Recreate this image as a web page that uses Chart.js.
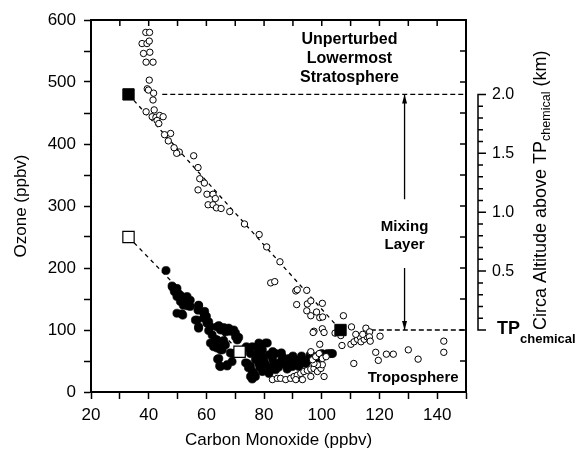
<!DOCTYPE html>
<html><head><meta charset="utf-8">
<script src="https://cdn.jsdelivr.net/npm/chart.js@4/dist/chart.umd.min.js"></script>
<style>html,body{margin:0;padding:0;background:#fff}</style>
</head><body>
<canvas id="c" width="577" height="453"></canvas>
<script>
// ---- Data ----
const openCO = [39.0,40.3,37.7,39.4,40.2,38.2,40.4,39.1,41.5,40.2,39.5,39.9,41.7,41.5,41.9,39.1,41.2,42.5,43.8,45.0,42.9,43.5,47.6,45.5,46.8,48.8,50.6,49.7,55.6,57.1,57.7,59.3,57.1,60.2,62.3,63.1,60.6,62.3,63.5,65.1,68.1,73.2,78.3,80.9,85.5,82.3,83.7,91.0,91.5,94.8,91.3,95.0,96.2,100.2,94.8,96.2,98.2,99.3,100.3,107.5,97.3,97.0,100.2,100.8,104.6,106.6,107.0,99.3,110.3,110.1,111.2,112.4,113.3,113.6,114.7,115.7,115.3,116.6,116.5,116.8,111.8,114.2,120.2,118.7,119.6,122.4,124.8,130.0,133.4,142.3,142.3,111.1,
  82.9,84.6,85.7,87.5,89.2,90.4,91.5,92.7,93.8,95.0,96.2,97.3,98.5,99.7,100.2,98.5,97.3,96.8,97.9,99.1,100.2,100.8,96.2,93.3,91.0,96.2,101.5];
const openO3 = [580,580,562,562,566,546,548,532,532,503,489,487,482,471,455,452,444,443,446,444,438,433,417,415,405,394,387,385,381,362,344,337,326,319,319,312,302,302,297,296,291,271,254,234,210,176,178,163,165,164,141,142,147,143,131,123,129,120,121,123,98,96,102,96,95,91,75,77,105,77,81,85,89,81,85,89,103,97,89,82,93,93,90,64,51,61,61,68,53,82,64,46,
  20,22,22,20,22,25,27,30,33,35,37,38,33,38,44,44,46,52,57,62,54,25,25,20,20,65,57];

const filledCO = [46.0,48.1,48.3,49.8,48.9,49.2,50.2,51.0,49.8,52.1,51.5,53.3,54.4,51.0,52.7,53.8,53.0,52.0,53.3,54.4,57.3,57.3,57.1,59.4,59.1,49.8,51.8,51.5,60.0,59.1,59.7,56.8,56.2,60.8,60.2,57.3,57.3,61.4,64.3,63.7,66.0,64.9,67.8,68.9,66.6,68.3,70.1,70.1,71.2,70.7,67.7,69.5,60.8,62.0,63.1,63.7,64.3,61.4,62.5,63.7,64.9,64.9,65.5,66.0,66.6,63.9,64.3,64.6,64.9,67.2,68.3,68.9,68.9,69.5,67.2,72.4,73.9,73.6,74.2,75.3,73.6,74.6,75.9,77.0,75.3,75.9,77.6,81.1,79.4,75.3,75.9,78.2,80.5,77.6,79.4,81.7,84.0,86.3,88.6,91.0,93.3,95.6,97.9,100.2,103.1,102.0,103.7,78.2,80.5,82.9,85.1,87.5,89.8,92.1,94.4,79.4,81.7,84.0,77.0,80.0,83.0,86.0,89.0,92.0,95.0,98.0,76.5,78.5,82.0,85.0,88.0,83.0,86.0,90.0,93.0,96.0,100.0];
const filledO3 = [196,171,169,167,162,162,159,156,154,151,151,154,148,146,148,146,143,140,139,138,140,139,132,130,127,127,124,126,122,119,119,116,116,113,111,105,103,105,107,105,104,100,98,98,97,100,95,89,88,84,103,100,99,92,85,84,79,79,73,71,68,73,68,83,76,53,54,42,41,42,63,62,49,62,44,62,73,71,46,41,47,39,33,25,25,21,73,79,68,62,73,79,79,62,57,60,62,57,54,52,52,54,57,57,62,62,62,46,44,41,46,44,41,41,46,33,30,36,52,50,52,50,48,47,50,50,30,40,35,40,37,65,63,58,58,60,62];

const stratSquareCO = [33, 106.5];   // unperturbed LMS end-member, TP end-member
const stratSquareO3 = [480, 100];
const tropSquareCO  = [33, 71.5];
const tropSquareO3  = [250, 65];

const levelO3      = [480, 100];     // LMS level, chemical tropopause
const levelStartCO = [44.7, 117];
const levelEndCO   = 149.5;

const arrowCO       = 128.7;
const arrowUpperO3  = [480, 311];
const arrowLowerO3  = [200, 100];

const tpOzone = 100, ozonePerKm = 190;          // right-axis relation
const altTickKm     = [0, 0.5, 1.0, 1.5, 2.0];
const altTickLabels = ['TP', '0.5', '1.0', '1.5', '2.0'];

// ---- Build ----
const FONT = '"Liberation Sans", Arial, Helvetica, sans-serif';
const zip = (xs, ys) => xs.map((v, i) => ({x: v, y: ys[i]}));

const decor = {
  id: 'decor',
  afterDatasetsDraw(chart) {
    const {ctx, chartArea: a, scales} = chart;
    const x = scales.x, y = scales.y, y2 = scales.y2;
    ctx.save();
    ctx.strokeStyle = '#000'; ctx.fillStyle = '#000';
    // top & right frame with inward ticks
    ctx.lineWidth = 2;
    ctx.beginPath();
    ctx.moveTo(a.left - 1, a.top); ctx.lineTo(a.right, a.top); ctx.lineTo(a.right, a.bottom + 1);
    ctx.stroke();
    ctx.lineWidth = 1.5;
    ctx.beginPath();
    x.ticks.forEach(t => { const px = x.getPixelForValue(t.value); ctx.moveTo(px, a.top); ctx.lineTo(px, a.top + 6); });
    y.ticks.forEach(t => { const py = y.getPixelForValue(t.value); ctx.moveTo(a.right, py); ctx.lineTo(a.right - 6, py); });
    ctx.stroke();

    // arrow heads
    const ax = x.getPixelForValue(arrowCO);
    const head = (px, py, dir) => {
      ctx.beginPath();
      ctx.moveTo(px, py);
      ctx.lineTo(px - 2.5, py - dir * 9);
      ctx.lineTo(px + 2.5, py - dir * 9);
      ctx.closePath(); ctx.fill();
    };
    head(ax, y.getPixelForValue(arrowUpperO3[0]), -1);
    head(ax, y.getPixelForValue(arrowLowerO3[1]), 1);

    // right altitude axis
    const rx = a.right + 12;
    const ytop = y2.getPixelForValue(altTickKm[altTickKm.length - 1]);
    const ybot = y2.getPixelForValue(altTickKm[0]);
    ctx.lineWidth = 1.5;
    ctx.beginPath();
    ctx.moveTo(rx, ytop - 0.75); ctx.lineTo(rx, ybot + 0.75);
    for (let k = 0; k <= 20; k++) {
      const py = y2.getPixelForValue(k / 10);
      const len = (k % 5 === 0) ? 8 : 5;
      ctx.moveTo(rx - 0.75, py); ctx.lineTo(rx + len, py);
    }
    ctx.stroke();
    ctx.textBaseline = 'middle'; ctx.textAlign = 'left';
    altTickKm.forEach((km, i) => {
      const py = y2.getPixelForValue(km);
      if (altTickLabels[i] === 'TP') {
        ctx.textBaseline = 'alphabetic';
        ctx.font = 'bold 18px ' + FONT;
        ctx.fillText('TP', rx + 19, py + 4);
        const w = ctx.measureText('TP').width;
        ctx.font = 'bold 13px ' + FONT;
        ctx.fillText('chemical', rx + 19 + w, py + 13);
        ctx.textBaseline = 'middle';
      } else {
        ctx.font = '16px ' + FONT;
        ctx.fillText(altTickLabels[i], rx + 14, py);
      }
    });
    // right axis title (rotated)
    ctx.save();
    ctx.translate(rx + 68, ybot);
    ctx.rotate(-Math.PI / 2);
    ctx.textAlign = 'left'; ctx.textBaseline = 'alphabetic';
    const t1 = 'Circa Altitude above TP';
    ctx.font = '18px ' + FONT;
    ctx.fillText(t1, 0, 0);
    const w1 = ctx.measureText(t1).width;
    ctx.font = '12.5px ' + FONT;
    ctx.fillText('chemical', w1, 4);
    const w2 = ctx.measureText('chemical').width;
    ctx.font = '18px ' + FONT;
    ctx.fillText(' (km)', w1 + w2, 0);
    ctx.restore();

    // annotations
    ctx.textAlign = 'center'; ctx.textBaseline = 'middle';
    ctx.font = 'bold 16px ' + FONT;
    const ux = x.getPixelForValue(109.6);
    ctx.fillText('Unperturbed', ux, y.getPixelForValue(567.7));
    ctx.fillText('Lowermost', ux, y.getPixelForValue(538));
    ctx.fillText('Stratosphere', ux, y.getPixelForValue(507.6));
    ctx.font = 'bold 15px ' + FONT;
    ctx.fillText('Mixing', ax, y.getPixelForValue(266.6));
    ctx.fillText('Layer', ax, y.getPixelForValue(237));
    ctx.fillText('Troposphere', x.getPixelForValue(131.7), y.getPixelForValue(22.6));
    ctx.restore();
  }
};

const lineStyle = (dash) => ({showLine: true, pointRadius: 0, borderColor: '#000', borderWidth: 1.3, borderDash: dash, fill: false, order: 3});

new Chart(document.getElementById('c'), {
  type: 'scatter',
  data: {
    datasets: [
      Object.assign({label: 'LMS mixing line', data: zip(stratSquareCO, stratSquareO3)}, lineStyle([4, 4])),
      Object.assign({label: 'Troposphere mixing line', data: zip(tropSquareCO, tropSquareO3)}, lineStyle([4, 4])),
      Object.assign({label: 'LMS level', data: [{x: levelStartCO[0], y: levelO3[0]}, {x: levelEndCO, y: levelO3[0]}]}, lineStyle([5, 3])),
      Object.assign({label: 'TP level', data: [{x: levelStartCO[1], y: levelO3[1]}, {x: levelEndCO, y: levelO3[1]}]}, lineStyle([5, 3])),
      Object.assign({label: 'arrow up', data: [{x: arrowCO, y: arrowUpperO3[0]}, {x: arrowCO, y: arrowUpperO3[1]}]}, lineStyle([])),
      Object.assign({label: 'arrow down', data: [{x: arrowCO, y: arrowLowerO3[0]}, {x: arrowCO, y: arrowLowerO3[1]}]}, lineStyle([])),
      {label: 'Tropospheric', data: zip(filledCO, filledO3), pointRadius: 4.1, pointBorderWidth: 0.6,
       pointBackgroundColor: '#000', pointBorderColor: '#000', order: 2},
      {label: 'Stratospheric', data: zip(openCO, openO3), pointRadius: 3.2, pointBorderWidth: 1,
       pointBackgroundColor: '#fff', pointBorderColor: '#000', order: 1},
      {label: 'Strat end members', data: zip(stratSquareCO, stratSquareO3), pointStyle: 'rect', pointRadius: 8,
       pointBorderWidth: 1, pointBackgroundColor: '#000', pointBorderColor: '#000', order: 0},
      {label: 'Trop end members', data: zip(tropSquareCO, tropSquareO3), pointStyle: 'rect', pointRadius: 8,
       pointBorderWidth: 1.2, pointBackgroundColor: '#fff', pointBorderColor: '#000', order: 0}
    ]
  },
  options: {
    responsive: false, animation: false, devicePixelRatio: 1,
    layout: {padding: {left: 0, right: 111, top: 20, bottom: 0}},
    plugins: {legend: {display: false}, tooltip: {enabled: false}},
    scales: {
      x: {
        type: 'linear', position: 'bottom', min: 20, max: 150,
        ticks: {stepSize: 10, autoSkip: false, maxRotation: 0, color: '#000', padding: 6,
                font: {size: 17, family: FONT}, callback: v => (v % 20 === 0 ? String(v) : '')},
        grid: {drawOnChartArea: false, drawTicks: true, tickLength: 7, tickColor: '#000', tickWidth: 1.5},
        border: {display: true, color: '#000', width: 2},
        title: {display: true, text: 'Carbon Monoxide (ppbv)', color: '#000', font: {size: 17, family: FONT}, padding: {top: 0, bottom: 2}},
        afterFit: s => { s.height = 61; }
      },
      y: {
        type: 'linear', position: 'left', min: 0, max: 600,
        ticks: {stepSize: 50, autoSkip: false, color: '#000', padding: 8,
                font: {size: 17, family: FONT}, callback: v => (v % 100 === 0 ? String(v) : '')},
        grid: {drawOnChartArea: false, drawTicks: true, tickLength: 7, tickColor: '#000', tickWidth: 1.5},
        border: {display: true, color: '#000', width: 2},
        title: {display: true, text: 'Ozone (ppbv)', color: '#000', font: {size: 17, family: FONT}, padding: {top: 11, bottom: 0}},
        afterFit: s => { s.width = 91; }
      },
      y2: {
        type: 'linear', position: 'right', display: false,
        min: (0 - tpOzone) / ozonePerKm, max: (600 - tpOzone) / ozonePerKm
      }
    }
  },
  plugins: [decor]
});
</script>
</body></html>
